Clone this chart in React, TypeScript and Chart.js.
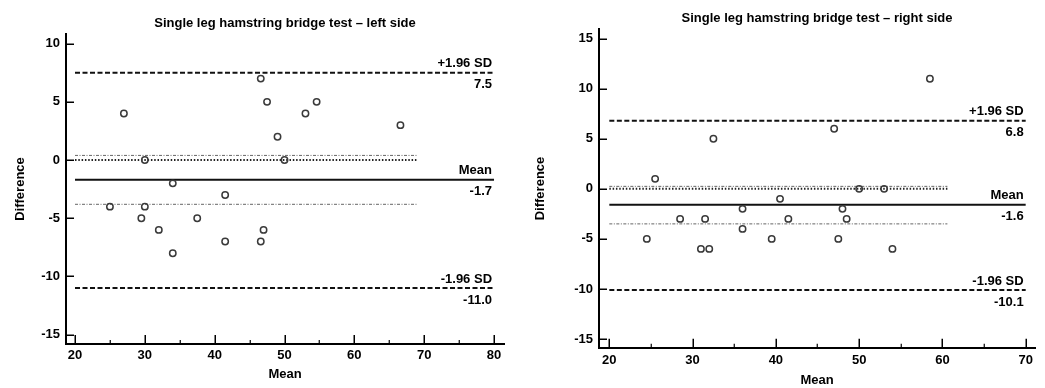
import React, { useEffect, useRef } from 'react';
import { Chart, registerables } from 'chart.js';

Chart.register(...registerables);

// ---------- data ----------
const leftMeans = [27, 30, 34, 41.5, 46.6, 47.5, 49, 50, 53, 54.6, 66.6, 25, 30, 29.5, 32, 34, 37.5, 41.5, 46.6, 47];
const leftDiffs = [4, 0, -2, -3, 7, 5, 2, 0, 4, 5, 3, -4, -4, -5, -6, -8, -5, -7, -7, -6];
const rightMeans = [58.5, 32.5, 47, 25.5, 50, 53, 40.5, 24.5, 28.5, 31, 31.5, 32, 36, 36, 39.5, 41.5, 47.5, 48, 48.5, 54];
const rightDiffs = [11, 5, 6, 1, 0, 0, -1, -5, -3, -6, -3, -6, -2, -4, -5, -3, -5, -2, -3, -6];

const limitNames = ['+1.96 SD', 'Mean', '-1.96 SD'];
const leftLimits = [7.5, -1.7, -11.0];
const rightLimits = [6.8, -1.6, -10.1];
const leftCI = [0.4, -3.8];
const rightCI = [0.25, -3.5];
const leftLimitSpan = [20, 80];
const rightLimitSpan = [20, 70];
const leftCISpan = [20, 69.1];
const rightCISpan = [20, 60.6];

const leftXTicks = [20, 30, 40, 50, 60, 70, 80];
const leftXMinor = [25, 35, 45, 55, 65, 75];
const leftYTicks = [10, 5, 0, -5, -10, -15];
const rightXTicks = [20, 30, 40, 50, 60, 70];
const rightXMinor = [25, 35, 45, 55, 65];
const rightYTicks = [15, 10, 5, 0, -5, -10, -15];

const leftTitle = 'Single leg hamstring bridge test \u2013 left side';
const rightTitle = 'Single leg hamstring bridge test \u2013 right side';
const xTitle = 'Mean';
const yTitle = 'Difference';

const FONT = '"Liberation Sans", Arial, sans-serif';
const boldFont = { family: FONT, size: 13, weight: 'bold' as const, lineHeight: 1.2 };

type Panel = {
  title: string;
  means: number[];
  diffs: number[];
  limits: number[];
  ci: number[];
  limitSpan: number[];
  ciSpan: number[];
  xTicks: number[];
  xMinor: number[];
  yTicks: number[];
  xRange: number[];
  yRange: number[];
  yWidth: number;
  xHeight: number;
  padRight: number;
  titlePad: { top: number; bottom: number };
  xTickPad: number;
  xTitlePad: number;
  yTitlePad: number;
};

const panels: Panel[] = [
  {
    title: leftTitle, means: leftMeans, diffs: leftDiffs, limits: leftLimits, ci: leftCI,
    limitSpan: leftLimitSpan, ciSpan: leftCISpan, xTicks: leftXTicks, xMinor: leftXMinor, yTicks: leftYTicks,
    xRange: [18.71, 81.43], yRange: [-15.8, 10.83], yWidth: 66, xHeight: 44, padRight: 21,
    titlePad: { top: 15.6, bottom: 2.8 }, xTickPad: 3.9, xTitlePad: 6.2, yTitlePad: 12.2,
  },
  {
    title: rightTitle, means: rightMeans, diffs: rightDiffs, limits: rightLimits, ci: rightCI,
    limitSpan: rightLimitSpan, ciSpan: rightCISpan, xTicks: rightXTicks, xMinor: rightXMinor, yTicks: rightYTicks,
    xRange: [18.76, 71.12], yRange: [-15.87, 15.94], yWidth: 74, xHeight: 40.3, padRight: 10,
    titlePad: { top: 10.4, bottom: 3.3 }, xTickPad: 4.5, xTitlePad: 0.2, yTitlePad: 7.2,
  },
];

function overlayPlugin(p: Panel) {
  return {
    id: 'baOverlay',
    afterDraw(chart: any) {
      const ctx = chart.ctx as CanvasRenderingContext2D;
      const xs = chart.scales.x;
      const ys = chart.scales.y;
      const area = chart.chartArea;
      ctx.save();
      ctx.strokeStyle = '#000';
      ctx.lineWidth = 1.5;
      // inward y ticks
      p.yTicks.forEach((v) => {
        const py = Math.round(ys.getPixelForValue(v)) + 0.25;
        ctx.beginPath();
        ctx.moveTo(area.left, py);
        ctx.lineTo(area.left + 8, py);
        ctx.stroke();
      });
      // inward x ticks
      p.xTicks.forEach((v) => {
        const px = Math.round(xs.getPixelForValue(v)) + 0.25;
        ctx.beginPath();
        ctx.moveTo(px, area.bottom);
        ctx.lineTo(px, area.bottom - 9);
        ctx.stroke();
      });
      ctx.lineWidth = 1.2;
      p.xMinor.forEach((v) => {
        const px = Math.round(xs.getPixelForValue(v)) + 0.25;
        ctx.beginPath();
        ctx.moveTo(px, area.bottom);
        ctx.lineTo(px, area.bottom - 4);
        ctx.stroke();
      });
      // limit labels
      ctx.fillStyle = '#000';
      ctx.font = `bold 13px ${FONT}`;
      ctx.textAlign = 'right';
      ctx.textBaseline = 'middle';
      const lx = xs.getPixelForValue(p.limitSpan[1]) - 2;
      p.limits.forEach((v, i) => {
        const py = ys.getPixelForValue(v);
        ctx.fillText(limitNames[i], lx, py - 9);
        ctx.fillText(v.toFixed(1), lx, py + 12);
      });
      ctx.restore();
    },
  };
}

function makeConfig(p: Panel): any {
  const pts = p.means.map((m, i) => ({ x: m, y: p.diffs[i] }));
  const hline = (v: number, span: number[]) => [
    { x: span[0], y: v },
    { x: span[1], y: v },
  ];
  const lineStyles = [
    { borderDash: [5, 2.5], borderWidth: 2, borderColor: '#111' },
    { borderDash: [], borderWidth: 2, borderColor: '#111' },
    { borderDash: [5, 2.5], borderWidth: 2, borderColor: '#111' },
  ];
  const datasets: any[] = [
    {
      data: pts,
      pointStyle: 'circle',
      pointRadius: 3.2,
      pointBorderWidth: 1.5,
      pointBorderColor: '#3a3a3a',
      pointBackgroundColor: 'rgba(255,255,255,0)',
      showLine: false,
      order: 0,
    },
  ];
  p.limits.forEach((v, i) => {
    datasets.push({
      data: hline(v, p.limitSpan),
      showLine: true,
      pointRadius: 0,
      fill: false,
      order: 2,
      ...lineStyles[i],
    });
  });
  datasets.push({
    data: hline(0, p.ciSpan),
    showLine: true,
    pointRadius: 0,
    fill: false,
    order: 2,
    borderColor: '#222',
    borderWidth: 2,
    borderDash: [1.5, 1.8],
  });
  p.ci.forEach((v) => {
    datasets.push({
      data: hline(v, p.ciSpan),
      showLine: true,
      pointRadius: 0,
      fill: false,
      order: 2,
      borderColor: '#666',
      borderWidth: 1,
      borderDash: [3, 1.5, 1, 1.5],
    });
  });

  return {
    type: 'scatter',
    data: { datasets },
    options: {
      responsive: false,
      animation: false,
      events: [],
      layout: { padding: { left: 0, right: p.padRight, top: 0, bottom: 0 } },
      plugins: {
        legend: { display: false },
        tooltip: { enabled: false },
        title: {
          display: true,
          text: p.title,
          fullSize: false,
          color: '#000',
          font: boldFont,
          padding: p.titlePad,
        },
      },
      scales: {
        x: {
          type: 'linear',
          min: p.xRange[0],
          max: p.xRange[1],
          afterBuildTicks: (s: any) => {
            s.ticks = p.xTicks.map((v) => ({ value: v }));
          },
          afterFit: (s: any) => {
            s.height = p.xHeight;
          },
          grid: { display: false, drawTicks: false },
          border: { display: true, color: '#000', width: 2 },
          ticks: { color: '#000', font: boldFont, padding: p.xTickPad, maxRotation: 0, autoSkip: false },
          title: { display: true, text: xTitle, color: '#000', font: boldFont, padding: { top: 0, bottom: p.xTitlePad } },
        },
        y: {
          type: 'linear',
          min: p.yRange[0],
          max: p.yRange[1],
          afterBuildTicks: (s: any) => {
            s.ticks = p.yTicks.map((v) => ({ value: v }));
          },
          afterFit: (s: any) => {
            s.width = p.yWidth;
          },
          grid: { display: false, drawTicks: false },
          border: { display: true, color: '#000', width: 2 },
          ticks: { color: '#000', font: boldFont, padding: 6, autoSkip: false },
          title: { display: true, text: yTitle, color: '#000', font: boldFont, padding: { top: p.yTitlePad, bottom: 0 } },
        },
      },
    },
    plugins: [overlayPlugin(p)],
  };
}

function BAChart({ panel, left, width }: { panel: Panel; left: number; width: number }) {
  const ref = useRef<HTMLCanvasElement | null>(null);
  useEffect(() => {
    if (!ref.current) return;
    const chart = new Chart(ref.current, makeConfig(panel));
    return () => chart.destroy();
  }, [panel]);
  return (
    <canvas
      ref={ref}
      width={width}
      height={388}
      style={{ position: 'absolute', left, top: 0, width, height: 388 }}
    />
  );
}

export default function App() {
  return (
    <div
      style={{
        position: 'fixed',
        left: 0,
        top: 0,
        width: 1045,
        height: 388,
        background: '#fff',
        overflow: 'hidden',
      }}
    >
      <BAChart panel={panels[0]} left={0} width={525} />
      <BAChart panel={panels[1]} left={525} width={520} />
    </div>
  );
}
